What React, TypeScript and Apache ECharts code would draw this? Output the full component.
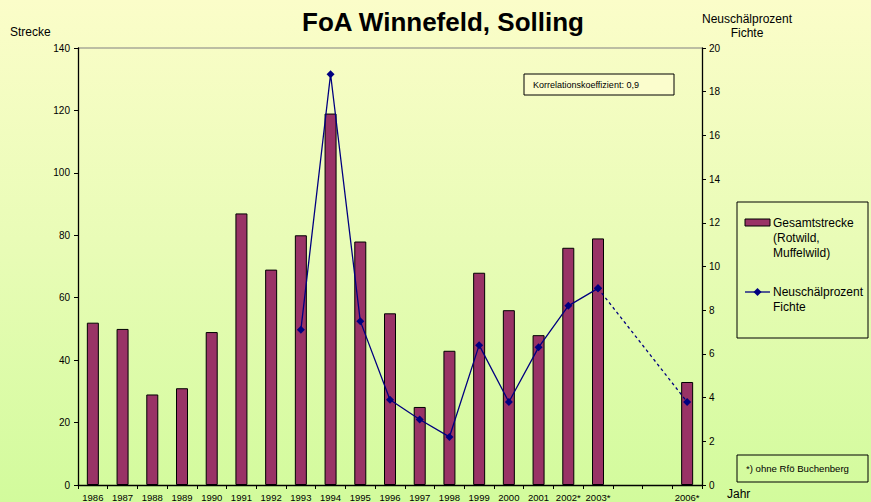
import React, { useEffect, useRef } from 'react';
import * as echarts from 'echarts';

const years = ['1986', '1987', '1988', '1989', '1990', '1991', '1992', '1993', '1994', '1995', '1996', '1997', '1998', '1999', '2000', '2001', '2002*', '2003*', '2004', '2005', '2006*'];
const hiddenLabels = ['2004', '2005'];
const strecke = [52, 50, 29, 31, 49, 87, 69, 80, 119, 78, 55, 25, 43, 68, 56, 48, 76, 79, null, null, 33];
const neuschaelSolid = [null, null, null, null, null, null, null, 7.1, 18.8, 7.5, 3.9, 3.0, 2.2, 6.4, 3.8, 6.3, 8.2, 9.0, null, null, null];
const neuschaelDashed = [null, null, null, null, null, null, null, null, null, null, null, null, null, null, null, null, null, 9.0, null, null, 3.8];
const leftTicks = { min: 0, max: 140, interval: 20 };
const rightTicks = { min: 0, max: 20, interval: 2 };

const FONT = 'Liberation Sans';
const BAR = '#993366';
const LINE = '#000080';

export default function App() {
  const ref = useRef<HTMLDivElement>(null);
  useEffect(() => {
    document.body.style.margin = '0';
    const chart = echarts.init(ref.current!, null, { renderer: 'svg' });
    const txt = (x: number, y: number, text: string, size: number, extra: any = {}) => ({
      type: 'text', x, y, silent: true,
      style: { text, fill: '#000', fontSize: size, fontFamily: FONT, ...extra },
    });
    chart.setOption({
      animation: false,
      backgroundColor: {
        type: 'linear', x: 0, y: 0, x2: 0, y2: 1,
        colorStops: [
          { offset: 0, color: '#FBFDC9' },
          { offset: 0.5, color: '#E8FCB6' },
          { offset: 1, color: '#D2FB9C' },
        ],
      },
      textStyle: { fontFamily: FONT },
      grid: { left: 78, right: 169, top: 48, bottom: 17 },
      xAxis: {
        type: 'category',
        data: years,
        boundaryGap: true,
        axisLine: { lineStyle: { color: '#000', width: 1.3 } },
        axisTick: { show: true, interval: 0, length: 4, lineStyle: { color: '#000' } },
        axisLabel: {
          interval: 0, fontSize: 9.5, color: '#000', margin: 7, fontFamily: FONT,
          formatter: (v: string) => (hiddenLabels.includes(v) ? '' : v),
        },
        splitLine: { show: false },
      },
      yAxis: [
        {
          type: 'value', ...leftTicks, position: 'left',
          axisLine: { show: true, lineStyle: { color: '#000', width: 1.3 } },
          axisTick: { show: true, length: 4, lineStyle: { color: '#000' } },
          axisLabel: { fontSize: 10, color: '#000', margin: 8, fontFamily: FONT },
          splitLine: { show: false },
        },
        {
          type: 'value', ...rightTicks, position: 'right',
          axisLine: { show: true, lineStyle: { color: '#000', width: 1.3 } },
          axisTick: { show: true, length: 4, lineStyle: { color: '#000' } },
          axisLabel: { fontSize: 10, color: '#000', margin: 7, fontFamily: FONT },
          splitLine: { show: false },
        },
      ],
      series: [
        {
          name: 'Gesamtstrecke', type: 'bar', data: strecke, yAxisIndex: 0,
          barWidth: 12,
          itemStyle: { color: BAR, borderColor: '#000', borderWidth: 1 },
          z: 2,
        },
        {
          name: 'Neuschälprozent Fichte', type: 'line', data: neuschaelSolid, yAxisIndex: 1,
          symbol: 'diamond', symbolSize: 8, showSymbol: true,
          lineStyle: { color: LINE, width: 1.3 },
          itemStyle: { color: LINE },
          z: 4,
        },
        {
          name: 'Neuschälprozent Fichte (gestrichelt)', type: 'line', data: neuschaelDashed, yAxisIndex: 1,
          connectNulls: true,
          symbol: 'diamond', symbolSize: 8, showSymbol: true,
          lineStyle: { color: LINE, width: 1.3, type: [3, 3] },
          itemStyle: { color: LINE },
          z: 3,
        },
      ],
      graphic: [
        { type: 'line', shape: { x1: 78, y1: 48, x2: 702, y2: 48 }, style: { stroke: '#808080', lineWidth: 1.2 }, silent: true },
        txt(443, 22, 'FoA Winnefeld, Solling', 26, { fontWeight: 'bold', align: 'center', verticalAlign: 'middle' }),
        txt(10, 32, 'Strecke', 12, { verticalAlign: 'middle' }),
        txt(747, 19, 'Neuschälprozent', 12, { align: 'center', verticalAlign: 'middle' }),
        txt(747, 33, 'Fichte', 12, { align: 'center', verticalAlign: 'middle' }),
        txt(727, 494, 'Jahr', 12, { verticalAlign: 'middle' }),
        // correlation box
        { type: 'rect', shape: { x: 524, y: 74, width: 150, height: 21 }, style: { fill: '#FBFDCD', stroke: '#000', lineWidth: 1 }, silent: true },
        txt(533, 84.5, 'Korrelationskoeffizient: 0,9', 9, { verticalAlign: 'middle' }),
        // legend
        { type: 'rect', shape: { x: 737, y: 202, width: 131, height: 136 }, style: { fill: 'none', stroke: '#000', lineWidth: 1 }, silent: true },
        { type: 'rect', shape: { x: 745, y: 219, width: 25, height: 7 }, style: { fill: BAR, stroke: '#000', lineWidth: 1 }, silent: true },
        txt(773, 223, 'Gesamtstrecke', 12, { verticalAlign: 'middle' }),
        txt(773, 238, '(Rotwild,', 12, { verticalAlign: 'middle' }),
        txt(773, 253, 'Muffelwild)', 12, { verticalAlign: 'middle' }),
        { type: 'line', shape: { x1: 745, y1: 292, x2: 770, y2: 292 }, style: { stroke: LINE, lineWidth: 1.3 }, silent: true },
        { type: 'polygon', shape: { points: [[757.5, 288], [761.5, 292], [757.5, 296], [753.5, 292]] }, style: { fill: LINE }, silent: true },
        txt(773, 292, 'Neuschälprozent', 12, { verticalAlign: 'middle' }),
        txt(773, 307, 'Fichte', 12, { verticalAlign: 'middle' }),
        // footnote box
        { type: 'rect', shape: { x: 737, y: 455, width: 131, height: 27 }, style: { fill: 'none', stroke: '#000', lineWidth: 1 }, silent: true },
        txt(746, 468.5, '*) ohne Rfö Buchenberg', 9.6, { verticalAlign: 'middle' }),
      ],
    });
    return () => chart.dispose();
  }, []);
  return <div ref={ref} style={{ width: 871, height: 502 }} />;
}
